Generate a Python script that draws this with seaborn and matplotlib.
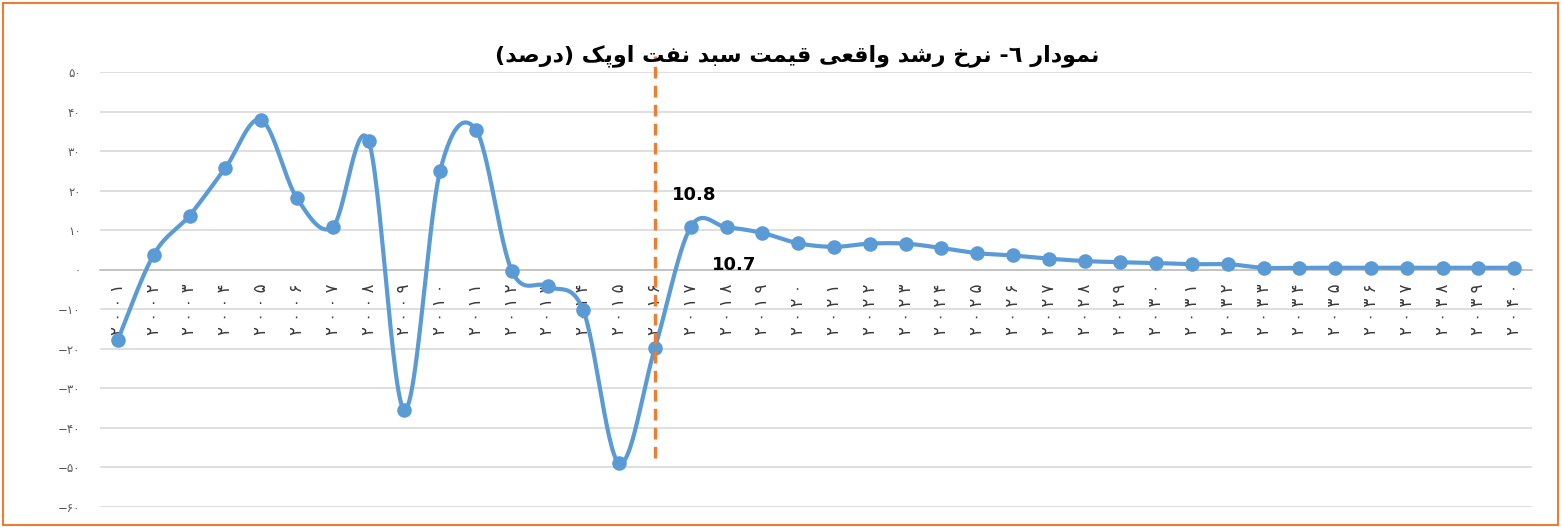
import numpy as np
import pandas as pd
import matplotlib
matplotlib.use("Agg")
import matplotlib.pyplot as plt
import matplotlib.patches as mpatches
import seaborn as sns

# ---------------- data ----------------
years = list(range(2001, 2041))
growth = [-17.7, 3.8, 13.7, 25.7, 37.9, 18.1, 10.8, 32.6, -35.4, 25.0,
          35.4, -0.2, -4.2, -10.3, -48.9, -19.8, 10.8, 10.7, 9.3, 6.7,
          5.8, 6.6, 6.6, 5.5, 4.2, 3.6, 2.8, 2.2, 1.9, 1.7,
          1.4, 1.4, 0.5, 0.5, 0.5, 0.5, 0.5, 0.5, 0.5, 0.5]
ytick_values = [-60, -50, -40, -30, -20, -10, 0, 10, 20, 30, 40, 50]
ytick_labels = ['−۶۰', '−۵۰', '−۴۰', '−۳۰', '−۲۰', '−۱۰', '۰',
                '۱۰', '۲۰', '۳۰', '۴۰', '۵۰']
title_text = 'نمودار ٦- نرخ رشد واقعی قیمت سبد نفت اوپک (درصد)'
annot_texts = ['10.8', '10.7']
marker_year = 2016

PERSIAN_DIGITS = str.maketrans('0123456789', '۰۱۲۳۴۵۶۷۸۹')
xtick_labels = [' '.join(str(y).translate(PERSIAN_DIGITS)) for y in years]

# ---------------- simple Arabic/Persian shaping ----------------
FORMS = {
    'ا': ('\uFE8D', '\uFE8E', None, None),
    'ب': ('\uFE8F', '\uFE90', '\uFE91', '\uFE92'),
    'ت': ('\uFE95', '\uFE96', '\uFE97', '\uFE98'),
    'خ': ('\uFEA5', '\uFEA6', '\uFEA7', '\uFEA8'),
    'د': ('\uFEA9', '\uFEAA', None, None),
    'ر': ('\uFEAD', '\uFEAE', None, None),
    'س': ('\uFEB1', '\uFEB2', '\uFEB3', '\uFEB4'),
    'ش': ('\uFEB5', '\uFEB6', '\uFEB7', '\uFEB8'),
    'ص': ('\uFEB9', '\uFEBA', '\uFEBB', '\uFEBC'),
    'ع': ('\uFEC9', '\uFECA', '\uFECB', '\uFECC'),
    'ف': ('\uFED1', '\uFED2', '\uFED3', '\uFED4'),
    'ق': ('\uFED5', '\uFED6', '\uFED7', '\uFED8'),
    'م': ('\uFEE1', '\uFEE2', '\uFEE3', '\uFEE4'),
    'ن': ('\uFEE5', '\uFEE6', '\uFEE7', '\uFEE8'),
    'و': ('\uFEED', '\uFEEE', None, None),
    'پ': ('\uFB56', '\uFB57', '\uFB58', '\uFB59'),
    'ک': ('\uFB8E', '\uFB8F', '\uFB90', '\uFB91'),
    'ی': ('\uFBFC', '\uFBFD', '\uFBFE', '\uFBFF'),
}


def shape_rtl(text):
    chars = list(text)
    out = []
    for i, c in enumerate(chars):
        if c not in FORMS:
            out.append(c)
            continue
        iso, fin, ini, med = FORMS[c]
        prev = chars[i - 1] if i > 0 else None
        nxt = chars[i + 1] if i + 1 < len(chars) else None
        jp = prev in FORMS and FORMS[prev][2] is not None
        jn = (nxt in FORMS) and ini is not None
        if jp and jn:
            out.append(med)
        elif jp:
            out.append(fin)
        elif jn:
            out.append(ini)
        else:
            out.append(iso)
    vis = ''.join(reversed(out))
    return vis.translate(str.maketrans('()', ')('))


# ---------------- smoothing (Bezier, like Excel's smoothed line) ----------------
def smooth(xv, yv, n=30):
    P = np.column_stack([xv, yv]).astype(float)
    P = np.vstack([P[0], P, P[-1]])
    pts = []
    t = np.linspace(0, 1, n)[:, None]
    for i in range(1, len(P) - 2):
        p0, p1, p2, p3 = P[i - 1], P[i], P[i + 1], P[i + 2]
        b1 = p1 + (p2 - p0) / 6.0
        b2 = p2 - (p3 - p1) / 6.0
        seg = ((1 - t) ** 3) * p1 + 3 * ((1 - t) ** 2) * t * b1 + 3 * (1 - t) * t ** 2 * b2 + t ** 3 * p2
        pts.append(seg if i == 1 else seg[1:])
    pts = np.vstack(pts)
    return pts[:, 0], pts[:, 1]


# ---------------- plot ----------------
sns.set_theme(style="white")
plt.rcParams['font.family'] = ['DejaVu Sans']

df = pd.DataFrame({'idx': np.arange(len(years)), 'year': years, 'growth': growth})
sx, sy = smooth(df['idx'].values, df['growth'].values)
sdf = pd.DataFrame({'x': sx, 'y': sy})

fig = plt.figure(figsize=(15.62, 5.27), dpi=100)
ax = fig.add_axes([100 / 1562, 20 / 527, 1432 / 1562, 435 / 527])

blue = '#5B9BD5'
orange = '#ED7D31'

for v in ytick_values:
    ax.axhline(v, color='#D9D9D9', lw=1.2, zorder=0)

sns.lineplot(data=sdf, x='x', y='y', sort=False, estimator=None, ax=ax,
             color=blue, lw=3.0, zorder=3)
sns.scatterplot(data=df, x='idx', y='growth', ax=ax, color=blue, s=110,
                edgecolor=blue, linewidth=0, zorder=4)

ax.set_xlim(-0.5, len(years) - 0.5)
ax.set_ylim(-60, 50)

# dashed forecast separator
mi = years.index(marker_year)
ax.vlines(mi, -47.5, 54, colors=orange, linestyles=(0, (3.5, 2.2)), lw=2.4,
          clip_on=False, zorder=5)

# annotations
ax.text(16.1, 18.9, annot_texts[0], fontsize=13, fontweight='bold', ha='center', va='center',
        color='black', zorder=6)
ax.text(17.2, 1.3, annot_texts[1], fontsize=13, fontweight='bold', ha='center', va='center',
        color='black', zorder=6)

# axes styling
for s in ['top', 'right', 'left']:
    ax.spines[s].set_visible(False)
ax.spines['bottom'].set_position(('data', 0))
ax.spines['bottom'].set_color('#BFBFBF')
ax.spines['bottom'].set_linewidth(1.2)

ax.set_xticks(df['idx'])
ax.set_xticklabels(xtick_labels, rotation=90, fontsize=12, color='#3A3A3A')
ax.set_xticks(np.arange(-0.5, len(years), 1.0), minor=True)
ax.tick_params(axis='x', which='major', length=0, pad=10)
ax.tick_params(axis='x', which='minor', length=5, width=1.2, color='#BFBFBF', direction='out')
for lab in ax.get_xticklabels():
    lab.set_va('top')

ax.set_yticks(ytick_values)
ax.set_yticklabels(ytick_labels, fontsize=8.5, color='#595959')
ax.tick_params(axis='y', length=0, pad=14)
ax.set_xlabel('')
ax.set_ylabel('')
ax.grid(False)

fig.text(797 / 1562, 1 - 56 / 527, shape_rtl(title_text), fontsize=16, fontweight='bold',
         ha='center', va='center', color='black')

# orange frame around the chart
fig.patches.append(mpatches.Rectangle((3 / 1562, 2 / 527), 1555 / 1562, 522 / 527,
                                      transform=fig.transFigure, fill=False,
                                      edgecolor=orange, lw=1.5))

fig.savefig('out.png', dpi=100)
